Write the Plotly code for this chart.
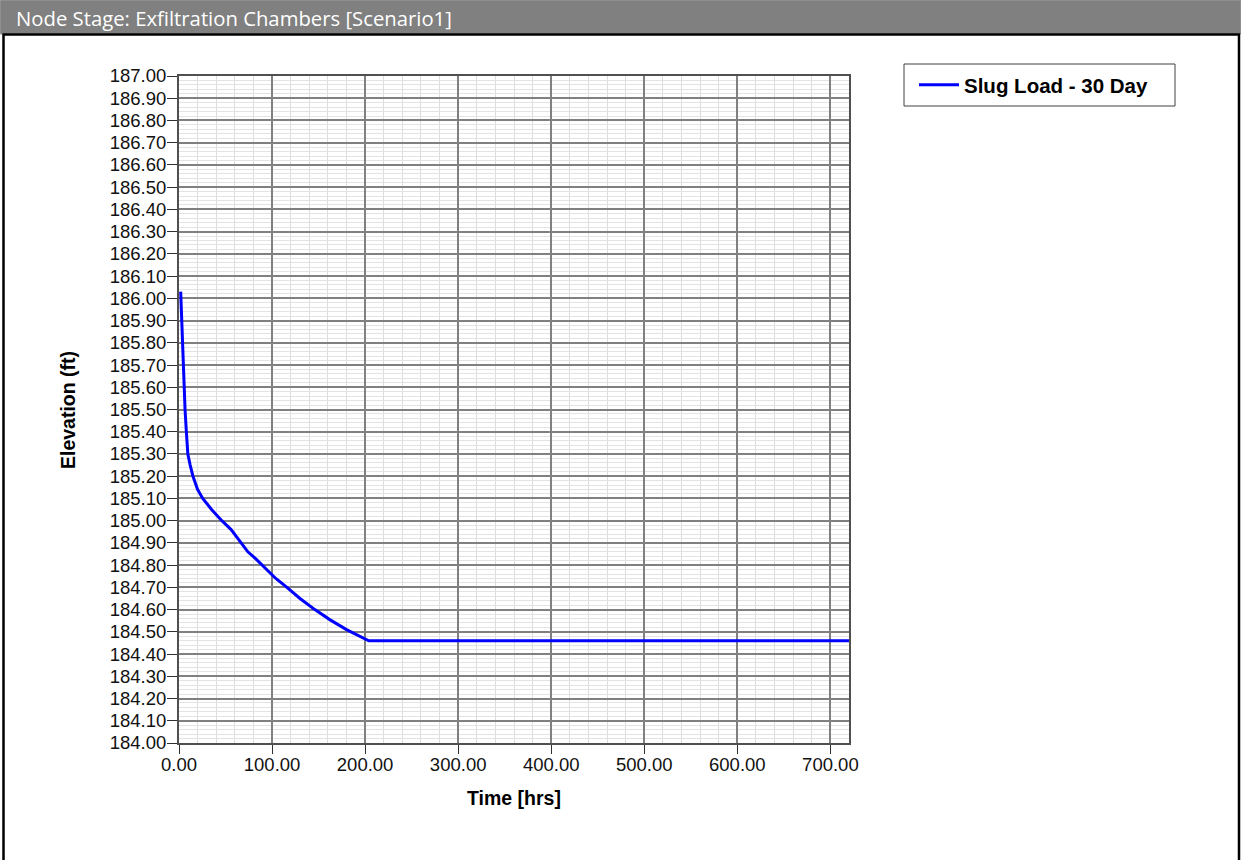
"""
Node stage hydrograph for the exfiltration chambers (Scenario1).
Slug load, 30 day run - stage drops fast then levels off at ~184.46 ft.
"""

import plotly.graph_objects as go

W, H = 1241, 860

# time [hrs] and stage [ft]
time_hrs = [1.8, 2.9, 3.6, 4.3, 5.4, 6.5, 7.9, 9.5, 12, 15, 20, 25.5, 35, 46,
            56, 65, 74, 82, 92, 104, 116, 130, 146, 162, 180, 195, 204, 720]
elev_ft = [186.03, 185.90, 185.80, 185.70, 185.60, 185.50, 185.40, 185.30,
           185.25, 185.20, 185.14, 185.10, 185.05, 185.00, 184.96, 184.91,
           184.86, 184.83, 184.79, 184.74, 184.70, 184.65, 184.60, 184.555,
           184.51, 184.48, 184.46, 184.46]

series_name = "Slug Load - 30 Day"
x_ticks = [0, 100, 200, 300, 400, 500, 600, 700]
y_ticks = [184.0 + 0.1 * i for i in range(31)]


def px_x(p):
    return p / W


def px_y(p):
    return 1 - p / H


fig = go.Figure()
fig.add_trace(go.Scatter(
    x=time_hrs, y=elev_ft, mode="lines", name="<b>" + series_name + "</b>",
    line=dict(color="#0000ff", width=3),
))

axis_common = dict(
    showline=True, linecolor="#505050", linewidth=2, mirror=True,
    showgrid=True, gridcolor="#808080", gridwidth=2,
    ticks="outside", tickcolor="#303030", tickwidth=1,
    tickfont=dict(family="Liberation Sans, Arial", size=18.5, color="#111111"),
    tickformat=".2f", zeroline=False, automargin=False,
)

fig.update_xaxes(
    range=[0, 720], tickvals=x_ticks, ticklen=9, ticklabelstandoff=-5,
    domain=[px_x(179), px_x(849)],
    minor=dict(dtick=20, tick0=0, showgrid=True, gridcolor="#dcdcdc", gridwidth=1, ticks=""),
    **axis_common,
)
fig.update_yaxes(
    range=[184, 187], tickvals=y_ticks, ticklen=10, ticklabelstandoff=-3,
    domain=[px_y(743), px_y(76)],
    minor=dict(dtick=0.02, tick0=184, showgrid=True, gridcolor="#e3e3e3", gridwidth=1, ticks=""),
    **axis_common,
)

# title bar + outer frame
fig.add_shape(type="rect", xref="paper", yref="paper",
              x0=0, x1=1, y0=px_y(34), y1=1,
              fillcolor="#808080", line=dict(color="#a0a0a0", width=1), layer="below")
fig.add_shape(type="rect", xref="paper", yref="paper",
              x0=px_x(3.5), x1=px_x(1239), y0=px_y(880), y1=px_y(34.5),
              line=dict(color="#000000", width=2.5))

# legend box (wider than plotly's own legend box would be)
fig.add_shape(type="rect", xref="paper", yref="paper",
              x0=px_x(904), x1=px_x(1175), y0=px_y(106), y1=px_y(64),
              line=dict(color="#404040", width=1), fillcolor="white")

fig.add_annotation(text="Node Stage: Exfiltration Chambers [Scenario1]",
                   xref="paper", yref="paper", x=px_x(14), y=px_y(18),
                   xanchor="left", yanchor="middle", showarrow=False,
                   font=dict(family="Open Sans", size=20.3, color="white"))
fig.add_annotation(text="<b>Elevation (ft)</b>", textangle=-90,
                   xref="paper", yref="paper", x=px_x(68), y=px_y(410),
                   xanchor="center", yanchor="middle", showarrow=False,
                   font=dict(family="Liberation Sans, Arial", size=19.5, color="black"))
fig.add_annotation(text="<b>Time [hrs]</b>",
                   xref="paper", yref="paper", x=px_x(514), y=px_y(798),
                   xanchor="center", yanchor="middle", showarrow=False,
                   font=dict(family="Liberation Sans, Arial", size=19.5, color="black"))

fig.update_layout(
    width=W, height=H,
    margin=dict(l=0, r=0, t=0, b=0),
    paper_bgcolor="white", plot_bgcolor="white",
    showlegend=True,
    legend=dict(x=px_x(914), y=px_y(85), xanchor="left", yanchor="middle",
                bgcolor="rgba(0,0,0,0)", borderwidth=0, itemwidth=40,
                font=dict(family="Liberation Sans, Arial", size=20.5, color="black")),
)

# page body has an 8px margin by default; drop it so the figure sits at 0,0
fig.write_html("out.html", config={"displayModeBar": False},
               post_script="document.body.style.margin='0';")
